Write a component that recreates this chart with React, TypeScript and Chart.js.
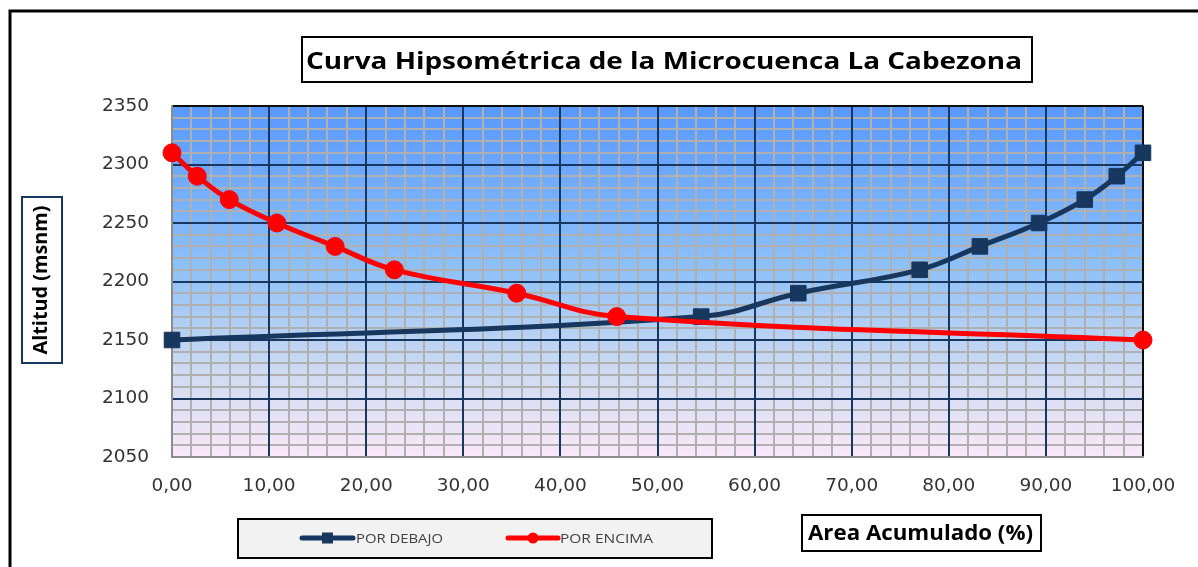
import React, { useEffect, useRef } from 'react';
import { Chart, registerables } from 'chart.js';

Chart.register(...registerables);

const chartTitle = 'Curva Hipsométrica de la Microcuenca La Cabezona';
const yAxisTitle = 'Altitud (msnm)';
const xAxisTitle = 'Area Acumulado (%)';
const seriesNames = ['POR DEBAJO', 'POR ENCIMA'];

const areaDebajo = [0, 54.5, 64.5, 77.0, 83.2, 89.3, 94.0, 97.3, 100];
const altDebajo = [2150, 2170, 2190, 2210, 2230, 2250, 2270, 2290, 2310];
const areaEncima = [0, 2.6, 5.9, 10.8, 16.8, 22.9, 35.5, 45.8, 100];
const altEncima = [2310, 2290, 2270, 2250, 2230, 2210, 2190, 2170, 2150];

const yTickLabels = [2050, 2100, 2150, 2200, 2250, 2300, 2350];
const xTickLabels = [0, 10, 20, 30, 40, 50, 60, 70, 80, 90, 100];

const NAVY = '#17375e';
const RED = '#ff0000';
const MINOR = '#b0b0b0';
const FONT = "'Open Sans', sans-serif";

function fitText(ctx: CanvasRenderingContext2D, text: string, x: number, y: number, size: number,
  weight: string, width: number, color: string, align: 'center' | 'left', rotate = 0, baseline: CanvasTextBaseline = 'alphabetic') {
  ctx.save();
  ctx.translate(x, y);
  if (rotate) ctx.rotate(rotate);
  ctx.font = `${weight} ${size}px ${FONT}`;
  const w = ctx.measureText(text).width;
  ctx.scale(width / w, 1);
  ctx.textAlign = align;
  ctx.textBaseline = baseline;
  ctx.fillStyle = color;
  ctx.fillText(text, 0, 0);
  ctx.restore();
}

const decorPlugin = {
  id: 'decor',
  beforeDraw(chart: any) {
    const { ctx, chartArea: a } = chart;
    ctx.save();
    const g = ctx.createLinearGradient(0, a.top, 0, a.bottom);
    g.addColorStop(0, 'rgb(88,152,255)');
    g.addColorStop(0.45, 'rgb(140,192,248)');
    g.addColorStop(0.75, 'rgb(205,218,242)');
    g.addColorStop(1, 'rgb(250,232,248)');
    ctx.fillStyle = g;
    ctx.fillRect(a.left, a.top, a.right - a.left, a.bottom - a.top);
    ctx.restore();
  },
  afterDraw(chart: any) {
    const { ctx, width, height } = chart;
    ctx.save();
    // outer frame (only top and left edges visible)
    ctx.strokeStyle = '#000';
    ctx.lineWidth = 3;
    ctx.lineCap = 'butt';
    ctx.beginPath();
    ctx.moveTo(10, height);
    ctx.lineTo(10, 11);
    ctx.lineTo(width, 11);
    ctx.stroke();

    // title box
    ctx.fillStyle = '#fff';
    ctx.fillRect(302, 37, 730, 45);
    ctx.lineWidth = 2;
    ctx.strokeStyle = '#000';
    ctx.strokeRect(302, 37, 730, 45);
    fitText(ctx, chartTitle, 664, 69, 24, 'bold', 716, '#000', 'center');

    // y title
    ctx.fillStyle = '#fff';
    ctx.fillRect(22, 197, 40, 166);
    ctx.strokeStyle = NAVY;
    ctx.strokeRect(22, 197, 40, 166);
    fitText(ctx, yAxisTitle, 42, 280, 19, 'bold', 149, '#000', 'center', -Math.PI / 2, 'middle');

    // x title
    ctx.fillStyle = '#fff';
    ctx.fillRect(802, 515, 239, 36);
    ctx.strokeStyle = '#000';
    ctx.strokeRect(802, 515, 239, 36);
    fitText(ctx, xAxisTitle, 920.5, 540, 22, 'bold', 225, '#000', 'center');

    // legend
    ctx.fillStyle = '#f2f2f2';
    ctx.fillRect(238, 519, 474, 39);
    ctx.strokeStyle = '#000';
    ctx.lineWidth = 2;
    ctx.strokeRect(238, 519, 474, 39);
    const ds = chart.data.datasets;
    const entries = [
      { x0: 302, x1: 353, tx: 356, tw: 87 },
      { x0: 508, x1: 558, tx: 560, tw: 93 },
    ];
    entries.forEach((e, i) => {
      const d = ds[i];
      const ly = 538;
      ctx.strokeStyle = d.borderColor;
      ctx.lineWidth = 5;
      ctx.lineCap = 'round';
      ctx.beginPath();
      ctx.moveTo(e.x0, ly);
      ctx.lineTo(e.x1, ly);
      ctx.stroke();
      ctx.fillStyle = d.backgroundColor;
      const cx = (e.x0 + e.x1) / 2;
      if (d.pointStyle === 'rect') {
        ctx.fillRect(cx - 5.5, ly - 5.5, 11, 11);
      } else {
        ctx.beginPath();
        ctx.arc(cx, ly, 5.5, 0, Math.PI * 2);
        ctx.fill();
      }
      fitText(ctx, d.label, e.tx, 542.7, 12, 'normal', e.tw, '#404040', 'left');
    });
    ctx.restore();
  },
};

const fmtX = (v: number) => v.toFixed(2).replace('.', ',');

export default function App() {
  const ref = useRef<HTMLCanvasElement>(null);
  useEffect(() => {
    if (!ref.current) return;
    const yMin = yTickLabels[0];
    const yMax = yTickLabels[yTickLabels.length - 1];
    const xMin = xTickLabels[0];
    const xMax = xTickLabels[xTickLabels.length - 1];
    const majorColor = (min: number, max: number) => (c: any) => {
      const v = Math.round(c.tick.value);
      if (v === min) return 'rgba(0,0,0,0)';
      if (v === max) return '#0d0d0d';
      return NAVY;
    };
    const chart = new Chart(ref.current, {
      type: 'line',
      data: {
        datasets: [
          {
            label: seriesNames[0],
            data: areaDebajo.map((x, i) => ({ x, y: altDebajo[i] })),
            borderColor: NAVY,
            backgroundColor: NAVY,
            borderWidth: 5,
            pointStyle: 'rect',
            pointRadius: 11,
            pointBorderWidth: 1,
            tension: 0.4,
            clip: false,
            order: 1,
          },
          {
            label: seriesNames[1],
            data: areaEncima.map((x, i) => ({ x, y: altEncima[i] })),
            borderColor: RED,
            backgroundColor: RED,
            borderWidth: 5,
            pointStyle: 'circle',
            pointRadius: 9,
            pointBorderWidth: 1,
            tension: 0.4,
            clip: false,
            order: 0,
          },
        ] as any,
      },
      options: {
        responsive: false,
        animation: false,
        devicePixelRatio: 1,
        layout: { padding: { top: 106, right: 55, bottom: 0, left: 0 } },
        plugins: { legend: { display: false }, tooltip: { enabled: false }, title: { display: false } },
        scales: {
          x: {
            type: 'linear',
            position: 'bottom',
            min: xMin,
            max: xMax,
            afterFit: (s: any) => { s.height = 110; },
            ticks: {
              stepSize: 2,
              autoSkip: false,
              maxRotation: 0,
              padding: 18,
              color: '#333',
              font: { family: "'DejaVu Sans', sans-serif", size: 18.5 },
              callback: (v: any) => (xTickLabels.includes(Math.round(v)) && Math.abs(v - Math.round(v)) < 1e-6 ? fmtX(Math.round(v)) : ''),
            },
            grid: { color: MINOR, lineWidth: 2, drawTicks: false, z: -1 },
            border: { color: '#8c8c8c', width: 2 },
          },
          y: {
            type: 'linear',
            position: 'left',
            min: yMin,
            max: yMax,
            afterFit: (s: any) => { s.width = 172; },
            ticks: {
              stepSize: 10,
              autoSkip: false,
              padding: 23,
              color: '#333',
              font: { family: "'DejaVu Sans', sans-serif", size: 18.5 },
              callback: (v: any) => (yTickLabels.includes(Math.round(v)) ? String(Math.round(v)) : ''),
            },
            grid: { color: MINOR, lineWidth: 2, drawTicks: false, z: -1 },
            border: { color: '#8c8c8c', width: 2 },
          },
          xMajor: {
            type: 'linear',
            position: 'bottom',
            min: xMin,
            max: xMax,
            afterFit: (s: any) => { s.height = 0; },
            ticks: { display: false, stepSize: 10, autoSkip: false },
            grid: { color: majorColor(xMin, xMax), lineWidth: 2, drawTicks: false },
            border: { display: false },
          },
          yMajor: {
            type: 'linear',
            position: 'left',
            min: yMin,
            max: yMax,
            afterFit: (s: any) => { s.width = 0; },
            ticks: { display: false, stepSize: 50, autoSkip: false },
            grid: { color: majorColor(yMin, yMax), lineWidth: 2, drawTicks: false },
            border: { display: false },
          },
        },
      } as any,
      plugins: [decorPlugin],
    });
    return () => chart.destroy();
  }, []);
  return (
    <div style={{ position: 'fixed', left: 0, top: 0, width: 1198, height: 567, background: '#fff' }}>
      <canvas ref={ref} width={1198} height={567} style={{ display: 'block' }} />
    </div>
  );
}
